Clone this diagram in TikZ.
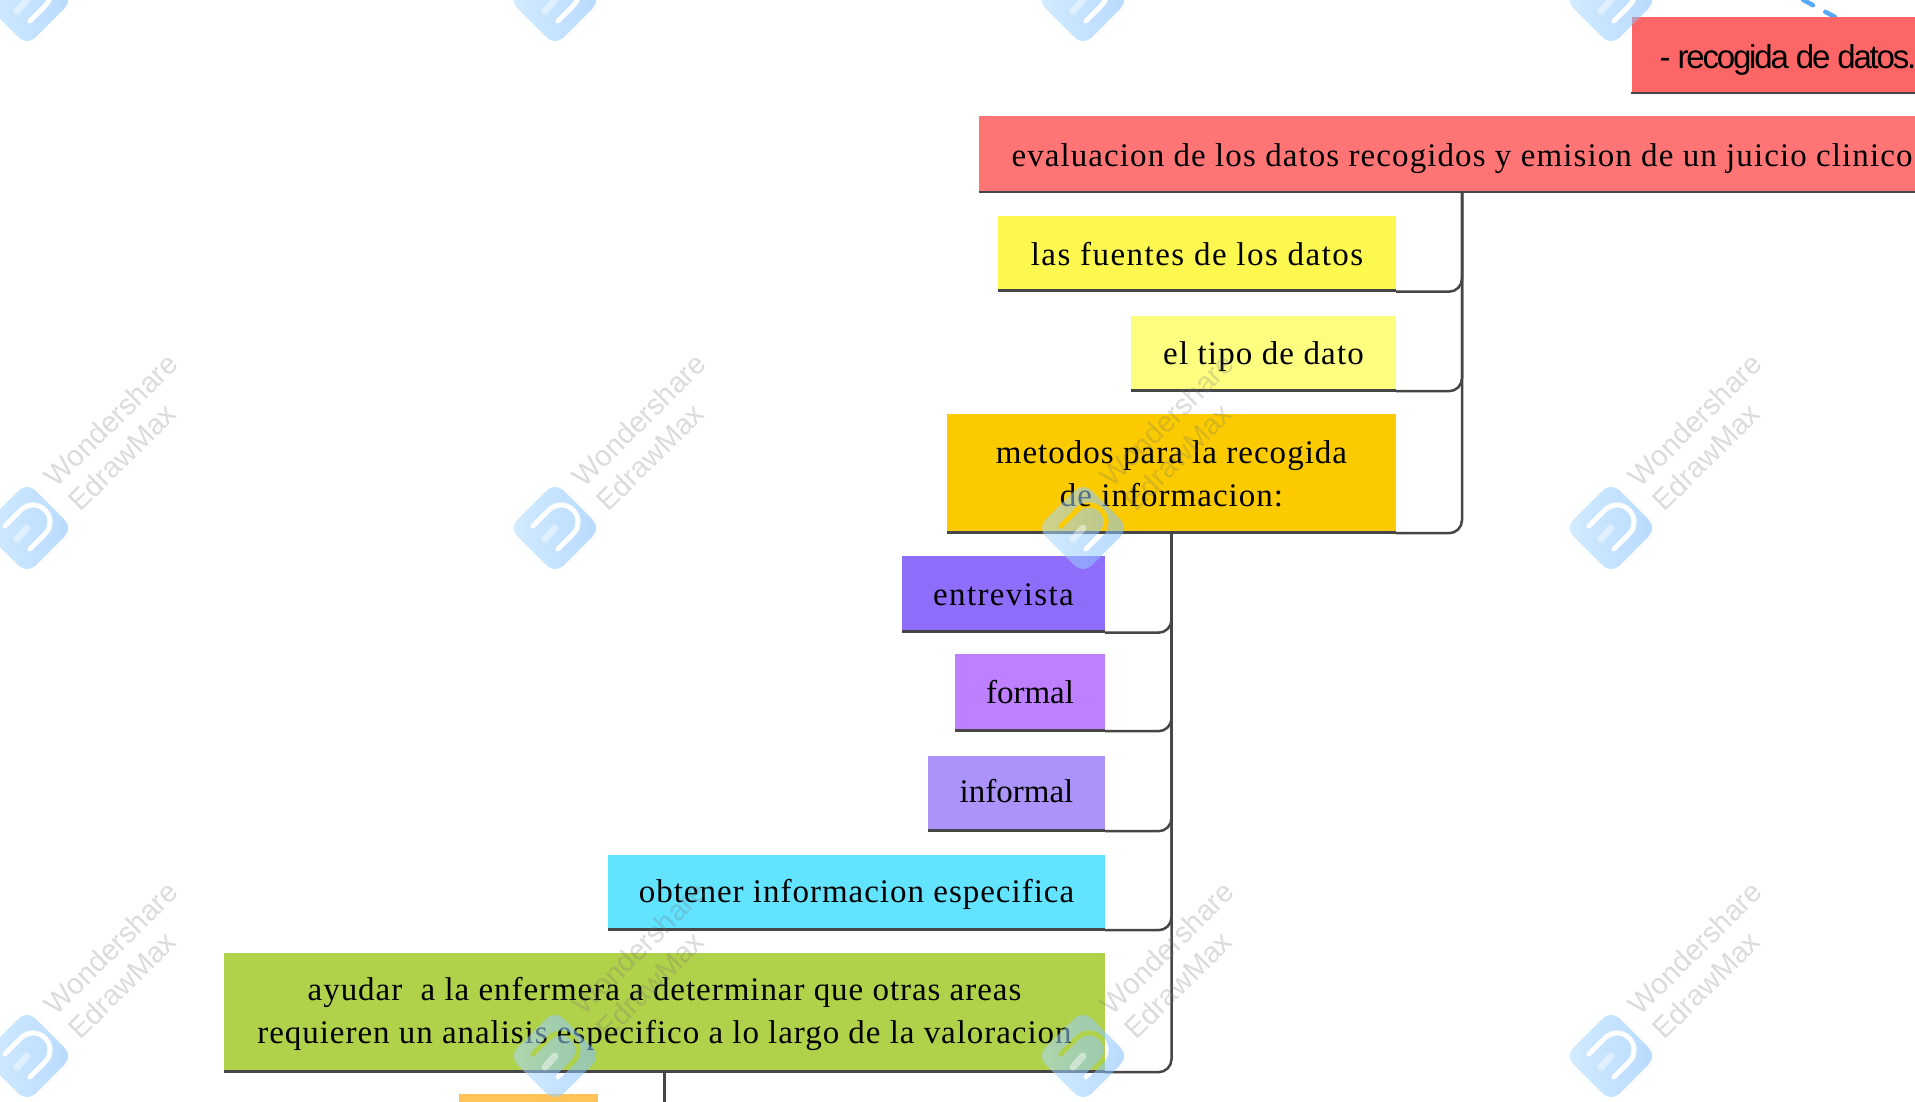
\documentclass[tikz,border=0pt]{standalone}
\usepackage{fontspec}
\setmainfont{Liberation Serif}
\newfontfamily\wmfont{Liberation Sans}
\definecolor{cRecog}{HTML}{FC6666}
\definecolor{cEval}{HTML}{FF7575}
\definecolor{cFuentes}{HTML}{FCF850}
\definecolor{cTipo}{HTML}{FDFD80}
\definecolor{cMetodos}{HTML}{FBCB00}
\definecolor{cEntre}{HTML}{8F6DFB}
\definecolor{cFormal}{HTML}{BF80FF}
\definecolor{cInformal}{HTML}{AB93F9}
\definecolor{cObtener}{HTML}{62E3FF}
\definecolor{cAyudar}{HTML}{B0D14A}
\definecolor{cOrange}{HTML}{FFC35A}
\definecolor{cLine}{HTML}{464646}
\definecolor{cLogoL}{HTML}{AFDBFF}
\definecolor{cLogoR}{HTML}{7FBEFF}
\definecolor{cDash}{HTML}{5AA9F5}
\newcommand{\lsp}[1]{\addfontfeature{LetterSpace=#1}}
\tikzset{
  box/.style={fill=#1,draw=none,inner sep=0pt,align=center,text=black,font=\fontsize{33}{43}\selectfont},
  single/.style={text height=23pt,text depth=0pt},
  link/.style={draw=cLine,line width=2.5pt,rounded corners=13pt},
  under/.style={draw=cLine,line width=2.6pt},
  wmtext/.style={text=black!55,opacity=.25,rotate=45,inner sep=0pt,font=\wmfont\fontsize{29}{29}\selectfont},
  logoshape/.style={left color=cLogoL,right color=cLogoR,fill opacity=.55,opacity=.55,even odd rule,draw=none},
}
\newcommand{\wmark}[3]{%
  \begin{scope}[shift={(#1,#2)}]
    \path[logoshape] [rounded corners=12pt] (0,-46)--(46,0)--(0,46)--(-46,0)--cycle
      [sharp corners] (4.86,22.86)--(19.86,7.86)
      .. controls (27.51,0.21) and (27.51,-12.21) .. (19.86,-19.86)
      .. controls (12.21,-27.51) and (-0.21,-27.51) .. (-7.86,-19.86)
      -- (-23.86,-3.86) .. controls (-26.4,-1.3) and (-22.7,2.4) .. (-20.18,-0.18)
      -- (-4.18,-16.18)
      .. controls (1.44,-21.8) and (10.56,-21.8) .. (16.18,-16.18)
      .. controls (21.8,-10.56) and (21.8,-1.44) .. (16.18,4.18)
      -- (1.18,19.18) .. controls (-1.3,21.7) and (2.4,25.4) .. (4.86,22.86) -- cycle;
    \draw[white,line width=7pt,line cap=round,opacity=.45] (-10,11)--(0,0);
    #3
  \end{scope}}
\begin{document}
\begin{tikzpicture}[x=1pt,y=-1pt]
\useasboundingbox (0,0) rectangle (1915,1102);
\clip (0,0) rectangle (1915,1102);
\fill[white] (0,0) rectangle (1915,1102);
% free ends
\coordinate (upEnd) at (1794,-5);
\coordinate (dashEnd) at (1835,17);
\coordinate (downEnd) at (664.5,1110);
\draw[cDash,line width=4.5pt,line cap=round,dash pattern=on 11pt off 14pt] (dashEnd) -- (upEnd);
% nodes
\node[box=cRecog,single,minimum width=313pt,minimum height=77pt,font=\wmfont\fontsize{33}{40}\selectfont\lsp{-6.6},text height=26pt] (recog) at (1788,55.5) {- recogida de datos.};
\node[box=cEval,single,minimum width=966pt,minimum height=77pt,font=\fontsize{33}{43}\selectfont\lsp{3.3},text height=24pt] (eval) at (1462,154.5) {evaluacion de los datos recogidos y emision de un juicio clinico};
\node[box=cFuentes,single,minimum width=398pt,minimum height=75pt,font=\fontsize{33}{43}\selectfont\lsp{4.5}] (fuentes) at (1197,254) {las fuentes de los datos};
\node[box=cTipo,single,minimum width=265pt,minimum height=75pt,font=\fontsize{33}{43}\selectfont\lsp{3.5},text height=22pt] (tipo) at (1263.5,353.5) {el tipo de dato};
\node[box=cMetodos,minimum width=449pt,minimum height=119pt,font=\fontsize{33}{43}\selectfont\lsp{3.1}] (metodos) at (1171.5,473.5) {metodos para la recogida\\de informacion:};
\node[box=cEntre,single,minimum width=203pt,minimum height=77pt,font=\fontsize{33}{43}\selectfont\lsp{4.2},text height=22pt] (entrevista) at (1003.5,594) {entrevista};
\node[box=cFormal,single,minimum width=150pt,minimum height=77pt,text height=22pt] (formal) at (1030,692.5) {formal};
\node[box=cInformal,single,minimum width=177pt,minimum height=75pt,text height=18.5pt] (informal) at (1016.5,793.5) {informal};
\node[box=cObtener,single,minimum width=497pt,minimum height=75pt,font=\fontsize{33}{43}\selectfont\lsp{3.0},text height=20pt] (obtener) at (856.5,892.5) {obtener informacion especifica};
\node[box=cAyudar,minimum width=881pt,minimum height=119pt,font=\fontsize{33}{43}\selectfont\lsp{2.9}] (ayudar) at (664.5,1012.5) {\rule{0pt}{27pt}ayudar\ \ a la enfermera a determinar que otras areas\\requieren un analisis especifico a lo largo de la valoracion};
\node[box=cOrange,minimum width=139pt,minimum height=75pt] (orange) at (528.5,1131.5) {};
% connectors
\draw[link] (fuentes.south east) -| (eval.south);
\draw[link] (tipo.south east) -| (eval.south);
\draw[link] (metodos.south east) -| (eval.south);
\draw[link] (entrevista.south east) -| (metodos.south);
\draw[link] (formal.south east) -| (metodos.south);
\draw[link] (informal.south east) -| (metodos.south);
\draw[link] (obtener.south east) -| (metodos.south);
\draw[link] (ayudar.south east) -| (metodos.south);
\draw[link] (ayudar.south) -- (downEnd);
% box bottoms
\foreach \n in {recog,eval,fuentes,tipo,metodos,entrevista,formal,informal,obtener,ayudar}
  \draw[under] ([yshift=1pt]\n.south west) -- ([yshift=1pt]\n.south east);
% watermarks
\foreach \cx in {27,555,1083,1611}{
  \wmark{\cx}{0}{}
  \foreach \cy in {528,1056}{
    \wmark{\cx}{\cy}{%
      \node[wmtext] (wa\cx\cy) at (84,-108) {Wondershare};
      \node[wmtext] (wb\cx\cy) at (95,-71) {EdrawMax};}
  }}
\end{tikzpicture}
\end{document}
